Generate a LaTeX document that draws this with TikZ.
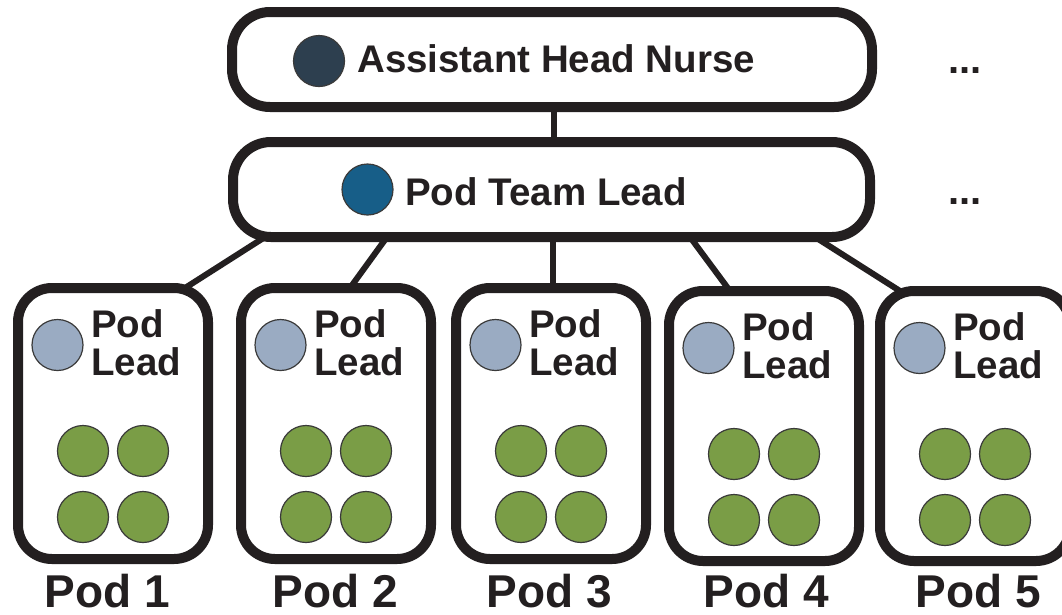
\documentclass[tikz,border=0pt]{standalone}
\usepackage{fontspec}
\setmainfont{Liberation Sans}
\definecolor{lineblk}{HTML}{231F20}
\definecolor{dotline}{HTML}{3A3A3A}
\definecolor{ahncol}{HTML}{2D3F4F}
\definecolor{ptlcol}{HTML}{175E88}
\definecolor{plcol}{HTML}{9AABC2}
\definecolor{staffcol}{HTML}{7A9D46}
\begin{document}
\begin{tikzpicture}[x=1pt,y=-1pt,
  box/.style={draw=lineblk, line width=10pt, fill=white, rounded corners=38pt, inner sep=0pt, outer sep=0pt},
  podbox/.style={draw=lineblk, line width=10pt, fill=white, rounded corners=34pt, inner sep=0pt, outer sep=0pt, minimum width=190pt},
  conn/.style={draw=lineblk, line width=6pt},
  dot/.style={circle, draw=dotline, line width=1.2pt, minimum size=51pt, inner sep=0pt, outer sep=0pt},
  lbl/.style={inner sep=0pt, anchor=base west, font=\fontsize{38.5}{40}\selectfont\bfseries, text=lineblk},
  podlbl/.style={inner sep=0pt, anchor=base, font=\fontsize{46}{50}\selectfont\bfseries, text=lineblk},
]
\clip (0,0) rectangle (1062,614);
\fill[white] (0,0) rectangle (1062,614);

% top boxes
\node[box, minimum width=640pt, minimum height=95pt] (ahn) at (552,59.5) {};
\node[box, minimum width=637pt, minimum height=95pt] (ptl) at (551.5,189.5) {};
\node[dot, fill=ahncol] (ahndot) at (319,61) {};
\node[lbl] (ahntext) at (357,72) {Assistant Head Nurse};
\node[dot, fill=ptlcol] (ptldot) at (367.5,189.5) {};
\node[lbl] (ptltext) at (405,205) {Pod Team Lead};
\node[lbl, font=\fontsize{40}{40}\selectfont\bfseries] (more1) at (948,73) {...};
\node[lbl, font=\fontsize{40}{40}\selectfont\bfseries] (more2) at (948,204) {...};

% pods
\foreach \i/\L/\T/\B/\lx in {1/18/288/559/107.5, 2/241/288/559/335, 3/456/288/559/549, 4/669/291/561/766, 5/880/291/561/978.5}{
  \node[podbox, minimum height={(\B-\T)*1pt}] (pod\i) at ({\L+95},{(\T+\B)/2}) {};
  \node[dot, fill=plcol] (pl\i) at ({\L+39.5},{\T+57}) {};
  \node[lbl] (pltop\i) at ({\L+73},{\T+49}) {Pod};
  \node[lbl] (plbot\i) at ({\L+73},{\T+87}) {Lead};
  \node[dot, fill=staffcol] (s\i a) at ({\L+65},{\T+163}) {};
  \node[dot, fill=staffcol] (s\i b) at ({\L+125},{\T+163}) {};
  \node[dot, fill=staffcol] (s\i c) at ({\L+65},{\T+229}) {};
  \node[dot, fill=staffcol] (s\i d) at ({\L+125},{\T+229}) {};
  \node[podlbl] (podname\i) at (\lx,607) {Pod \i};
}

% connectors
\draw[conn] ([xshift=322pt]ahn.south west) -- ([xshift=321pt]ptl.north west);
\draw[conn] ([xshift=32pt]ptl.south west) -- ([xshift=167pt]pod1.north west);
\draw[conn] ([xshift=154pt]ptl.south west) -- ([xshift=109pt]pod2.north west);
\draw[conn] ([xshift=320pt]ptl.south west) -- ([xshift=97pt]pod3.north west);
\draw[conn] ([xshift=457pt]ptl.south west) -- ([xshift=61pt]pod4.north west);
\draw[conn] ([xshift=582pt]ptl.south west) -- ([xshift=20pt]pod5.north west);
\end{tikzpicture}
\end{document}
